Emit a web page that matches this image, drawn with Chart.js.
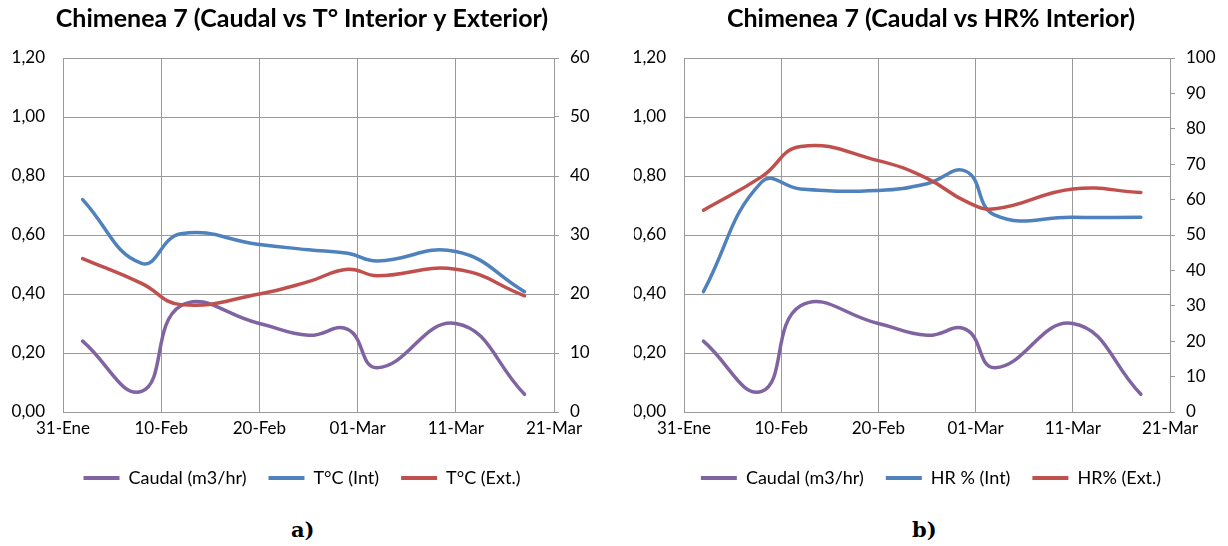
<!DOCTYPE html>
<html>
<head>
<meta charset="utf-8">
<script src="https://cdn.jsdelivr.net/npm/chart.js@4"></script>
<style>
  body { margin: 0; background: #fff; width: 1228px; height: 546px; position: relative; overflow: hidden; }
  canvas { position: absolute; top: 0; }
  .tag { position: absolute; top: 517px; font: bold 21px 'DejaVu Serif', serif; color: #000; }
</style>
</head>
<body>
<canvas id="c1" width="614" height="500" style="left:0"></canvas>
<canvas id="c2" width="614" height="500" style="left:614px"></canvas>
<div class="tag" style="left:291px">a)</div>
<div class="tag" style="left:912px">b)</div>
<script>
// x = days after 31-Ene (leap year, so +30 lands on 01-Mar)
const xLabels = ['31-Ene', '10-Feb', '20-Feb', '01-Mar', '11-Mar', '21-Mar']
const days = [2, 8, 12, 20, 25, 29, 32, 40, 47]

// left axis, m3/hr
const caudal = [0.24, 0.07, 0.36, 0.30, 0.26, 0.28, 0.15, 0.30, 0.06]

// chart a), right axis, °C
const tInt = [36, 25.2, 30.2, 28.4, 27.5, 26.9, 25.6, 27.2, 20.4]
const tExt = [26, 21.8, 18.2, 20, 22.1, 24.2, 23.1, 24.2, 19.7]

// chart b), right axis, %
const hrInt = [34, 65, 63, 62.6, 64.5, 68, 55.6, 55, 55]
const hrExt = [57, 66.5, 75, 71, 66, 59.5, 57.4, 63, 62]

const PURPLE = '#8064A2'
const BLUE = '#4F81BD'
const RED = '#C0504D'
const GRID = '#9a9a9a'
const FONT = 'Lato'

const pts = (vals) => vals.map((v, i) => ({x: days[i], y: v}))

function line(label, vals, color, axis, order) {
  return {
    label,
    data: pts(vals),
    yAxisID: axis,
    borderColor: color,
    backgroundColor: color,
    borderWidth: 3.5,
    borderCapStyle: 'round',
    pointRadius: 0,
    tension: 0.45,
    order,
  }
}

function makeChart(id, title, series, rightMax, plotLeft, plotRight, padL, padR) {
  const ctx = document.getElementById(id)
  return new Chart(ctx, {
    type: 'line',
    data: {datasets: series},
    options: {
      responsive: false,
      animation: false,
      layout: {padding: {top: 0, bottom: 3, left: padL, right: padR}},
      scales: {
        x: {
          type: 'linear',
          min: 0,
          max: 50,
          ticks: {
            stepSize: 10,
            padding: 6,
            color: '#000',
            font: {family: FONT, size: 17},
            callback: (v) => xLabels[Math.round(v / 10)],
          },
          grid: {color: GRID, drawTicks: false},
          border: {color: GRID},
          afterFit: (s) => { s.height = 35 },
        },
        y: {
          position: 'left',
          min: 0,
          max: 1.2,
          ticks: {
            stepSize: 0.2,
            padding: 18,
            color: '#000',
            font: {family: FONT, size: 17},
            callback: (v) => v.toFixed(2).replace('.', ','),
          },
          grid: {color: GRID, drawTicks: false},
          border: {color: GRID},
          afterFit: (s) => { s.width = plotLeft - padL },
        },
        y2: {
          position: 'right',
          min: 0,
          max: rightMax,
          ticks: {
            stepSize: 10,
            padding: 11,
            color: '#000',
            font: {family: FONT, size: 17},
          },
          grid: {color: GRID, drawOnChartArea: false, drawTicks: true, tickLength: 5},
          border: {color: GRID},
          afterFit: (s) => { s.width = 614 - plotRight - padR },
        },
      },
      plugins: {
        title: {
          display: true,
          text: title,
          color: '#000',
          font: {family: FONT, size: 25, weight: 'bold'},
          padding: {top: 4, bottom: 24},
        },
        legend: {
          position: 'bottom',
          labels: {
            boxWidth: 36,
            boxHeight: 4,
            padding: 22,
            color: '#000',
            font: {family: FONT, size: 18},
            sort: (a, b) => a.datasetIndex - b.datasetIndex,
            generateLabels: (chart) => Chart.defaults.plugins.legend.labels.generateLabels(chart)
              .map((l) => ({...l, lineWidth: 0})),
          },
        },
        tooltip: {enabled: false},
      },
    },
  })
}

makeChart('c1', 'Chimenea 7 (Caudal vs T° Interior y Exterior)', [
  line('Caudal (m3/hr)', caudal, PURPLE, 'y', 3),
  line('T°C (Int)', tInt, BLUE, 'y2', 2),
  line('T°C (Ext.)', tExt, RED, 'y2', 1),
], 60, 63, 554, 0, 10)

makeChart('c2', 'Chimenea 7 (Caudal vs HR% Interior)', [
  line('Caudal (m3/hr)', caudal, PURPLE, 'y', 3),
  line('HR % (Int)', hrInt, BLUE, 'y2', 2),
  line('HR% (Ext.)', hrExt, RED, 'y2', 1),
], 100, 70, 556, 20, 0)
</script>
</body>
</html>
